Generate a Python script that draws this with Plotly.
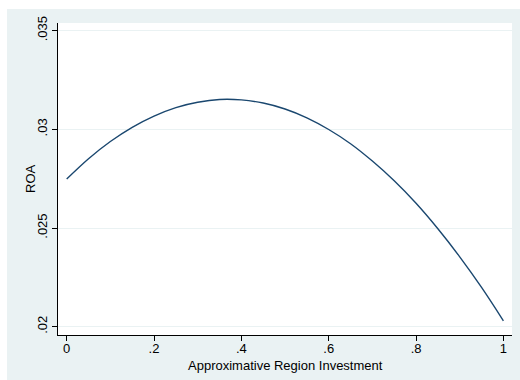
import plotly.graph_objects as go

# Fitted ROA profile across approximative region investment
investment = [0.00, 0.05, 0.10, 0.15, 0.20, 0.25, 0.30, 0.35, 0.40, 0.45, 0.50,
              0.55, 0.60, 0.65, 0.70, 0.75, 0.80, 0.85, 0.90, 0.95, 1.00]
roa = [0.02748, 0.02851, 0.02938, 0.03010, 0.03067, 0.03110, 0.03137, 0.03151,
       0.03149, 0.03133, 0.03103, 0.03058, 0.02999, 0.02927, 0.02839, 0.02739,
       0.02625, 0.02496, 0.02354, 0.02199, 0.02030]

x_tickvals = [0, 0.2, 0.4, 0.6, 0.8, 1]
x_ticktext = ["0", ".2", ".4", ".6", ".8", "1"]
y_tickvals = [0.02, 0.025, 0.03, 0.035]
y_ticktext = [".02", ".025", ".03", ".035"]
x_title = "Approximative Region Investment"
y_title = "ROA"

BG = "#EAF2F3"
LINE = "#1A476F"
FONT = "Liberation Sans, Arial, sans-serif"

W, H = 520, 380
ML, MR, MT, MB = 58, 8, 23, 45
pw = W - ML - MR
ph = H - MT - MB

fig = go.Figure()
fig.add_trace(go.Scatter(
    x=investment, y=roa, mode="lines",
    line=dict(color=LINE, width=1.4, shape="spline", smoothing=1.0),
    hoverinfo="skip", showlegend=False,
))

fig.update_layout(
    width=W, height=H,
    margin=dict(l=ML, r=MR, t=MT, b=MB, pad=0),
    paper_bgcolor=BG,
    plot_bgcolor="white",
    font=dict(family=FONT, size=13, color="black"),
    showlegend=False,
    shapes=[
        # thin white border strips on the left and top edges of the graph region
        dict(type="rect", xref="paper", yref="paper",
             x0=-0.3, x1=(7 - ML) / pw, y0=-0.3, y1=1.3,
             fillcolor="white", line=dict(width=0), layer="above"),
        dict(type="rect", xref="paper", yref="paper",
             x0=-0.3, x1=1.3, y0=1 + (MT - 9) / ph, y1=1.3,
             fillcolor="white", line=dict(width=0), layer="above"),
    ],
    annotations=[
        dict(text=x_title, xref="paper", yref="paper",
             x=0.5, y=-30 / ph, xanchor="center", yanchor="middle",
             showarrow=False, font=dict(size=13)),
        dict(text=y_title, xref="paper", yref="paper",
             x=(30 - ML) / pw, y=0.5, xanchor="center", yanchor="middle",
             textangle=-90, showarrow=False, font=dict(size=13)),
    ],
)

fig.update_xaxes(
    range=[-0.0199, 1.0197],
    tickvals=x_tickvals, ticktext=x_ticktext,
    ticks="outside", ticklen=5, tickwidth=1, tickcolor="black",
    showline=True, linecolor="black", linewidth=1,
    showgrid=False, zeroline=False,
    tickfont=dict(size=13),
    ticklabelstandoff=-4,
)
fig.update_yaxes(
    range=[0.01958, 0.035385],
    tickvals=y_tickvals, ticktext=y_ticktext,
    tickangle=-90,
    ticks="outside", ticklen=5, tickwidth=1, tickcolor="black",
    showline=True, linecolor="black", linewidth=1,
    showgrid=True, gridcolor=BG, gridwidth=1,
    zeroline=False,
    tickfont=dict(size=13),
)

fig.write_html("out.html")
